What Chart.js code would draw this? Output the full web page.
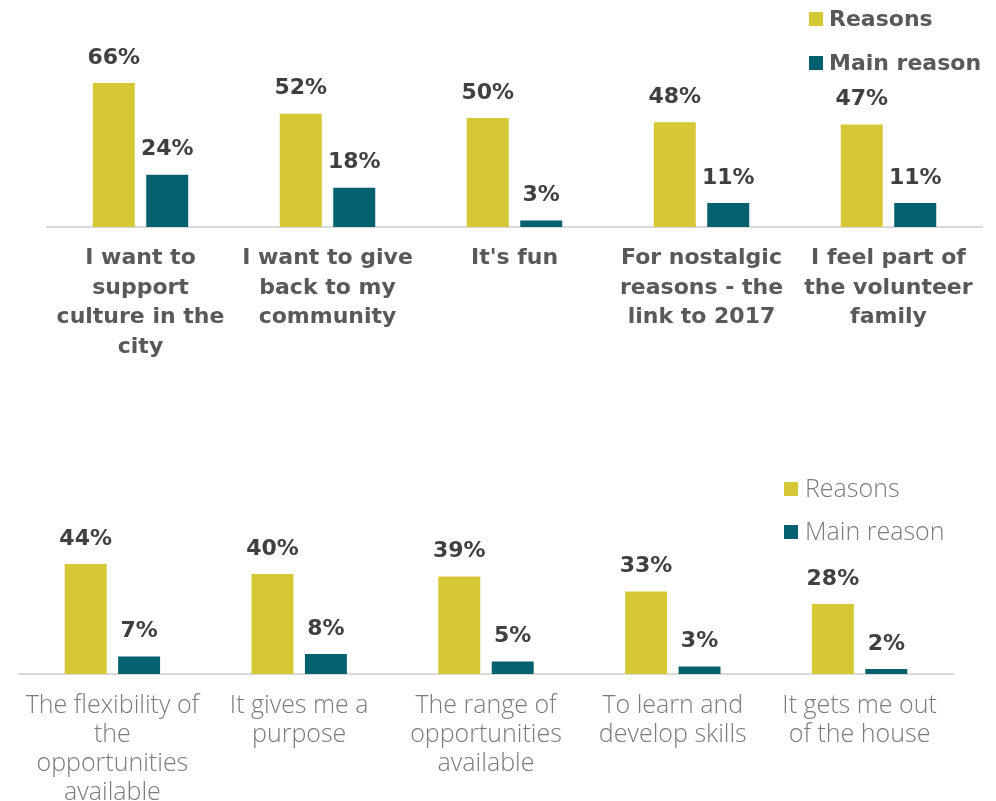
<!DOCTYPE html>
<html>
<head>
<meta charset="utf-8">
<script src="https://cdn.jsdelivr.net/npm/chart.js@4.4.0/dist/chart.umd.min.js"></script>
<style>
html, body { margin: 0; padding: 0; background: #fff; }
#wrap { position: relative; width: 996px; height: 801px; }
.box { position: absolute; left: 0; width: 996px; }
</style>
</head>
<body>
<div id="wrap">
  <div class="box" style="top:0;height:400px"><canvas id="topChart"></canvas></div>
  <div class="box" style="top:400px;height:401px"><canvas id="bottomChart"></canvas></div>
</div>
<script>
const topLabels = [
    ['I want to', 'support', 'culture in the', 'city'],
    ['I want to give', 'back to my', 'community'],
    ["It's fun"],
    ['For nostalgic', 'reasons - the', 'link to 2017'],
    ['I feel part of', 'the volunteer', 'family']
];
const topReasons = [66, 52, 50, 48, 47];
const topMain = [24, 18, 3, 11, 11];

const bottomLabels = [
    ['The flexibility of', 'the', 'opportunities', 'available'],
    ['It gives me a', 'purpose'],
    ['The range of', 'opportunities', 'available'],
    ['To learn and', 'develop skills'],
    ['It gets me out', 'of the house']
];
const bottomReasons = [44, 40, 39, 33, 28];
const bottomMain = [7, 8, 5, 3, 2];

const seriesNames = ['Reasons', 'Main reason'];
const seriesColors = ['#d6c834', '#03606e'];

const BOLD = 'DejaVu Sans';
const LIGHT = 'Open Sans';

// value labels above each bar
const valueLabels = {
    id: 'valueLabels',
    afterDatasetsDraw(chart) {
        const { ctx } = chart;
        ctx.save();
        ctx.fillStyle = '#404040';
        ctx.font = 'bold 22px "' + BOLD + '"';
        ctx.textAlign = 'center';
        ctx.textBaseline = 'middle';
        chart.data.datasets.forEach((ds, i) => {
            chart.getDatasetMeta(i).data.forEach((bar, j) => {
                ctx.fillText(ds.data[j] + '%', bar.x, bar.y - 25);
            });
        });
        ctx.restore();
    }
};

// legend stacked at the top right, laid over the plot
const sideLegend = {
    id: 'sideLegend',
    afterDraw(chart, args, opts) {
        const { ctx } = chart;
        ctx.save();
        ctx.font = opts.font;
        ctx.textBaseline = 'middle';
        ctx.textAlign = 'left';
        chart.data.datasets.forEach((ds, i) => {
            const y = opts.y + i * opts.gap;
            ctx.fillStyle = ds.backgroundColor;
            ctx.fillRect(opts.x, y - 7, 14, 14);
            ctx.fillStyle = opts.color;
            ctx.fillText(ds.label, opts.x + opts.textGap, y + 1);
        });
        ctx.restore();
    }
};

function makeChart(id, labels, reasons, main, cfg) {
    new Chart(document.getElementById(id), {
        type: 'bar',
        data: {
            labels: labels,
            datasets: [
                { label: seriesNames[0], data: reasons, backgroundColor: seriesColors[0] },
                { label: seriesNames[1], data: main, backgroundColor: seriesColors[1] }
            ].map(d => ({ ...d, categoryPercentage: 0.572, barPercentage: 0.785 }))
        },
        options: {
            responsive: true,
            maintainAspectRatio: false,
            animation: false,
            layout: { padding: cfg.padding },
            plugins: {
                legend: { display: false },
                tooltip: { enabled: false },
                sideLegend: cfg.legend
            },
            scales: {
                x: {
                    grid: { display: false, drawTicks: false },
                    border: { color: '#d9d9d9', width: 2 },
                    ticks: {
                        autoSkip: false,
                        maxRotation: 0,
                        padding: cfg.tickPad,
                        color: cfg.tickColor,
                        font: cfg.tickFont
                    },
                    afterFit(scale) { scale.height = cfg.axisHeight; }
                },
                y: { display: false, min: 0, max: 100 }
            }
        },
        plugins: [valueLabels, sideLegend]
    });
}

makeChart('topChart', topLabels, topReasons, topMain, {
    padding: { left: 47, right: 14, top: 9, bottom: 0 },
    axisHeight: 173,
    tickPad: 17,
    tickColor: '#595959',
    tickFont: { family: BOLD, size: 22, weight: 'bold', lineHeight: 1.34 },
    legend: { x: 809, y: 19, gap: 44, textGap: 20, font: 'bold 22px "' + BOLD + '"', color: '#595959' }
});

makeChart('bottomChart', bottomLabels, bottomReasons, bottomMain, {
    padding: { left: 19, right: 43, top: 24, bottom: 0 },
    axisHeight: 127,
    tickPad: 17,
    tickColor: '#7a7a7a',
    tickFont: { family: LIGHT, size: 25, weight: 300, lineHeight: 1.16 },
    legend: { x: 784, y: 89, gap: 43, textGap: 21, font: '300 25px "' + LIGHT + '"', color: '#7a7a7a' }
});
</script>
</body>
</html>
